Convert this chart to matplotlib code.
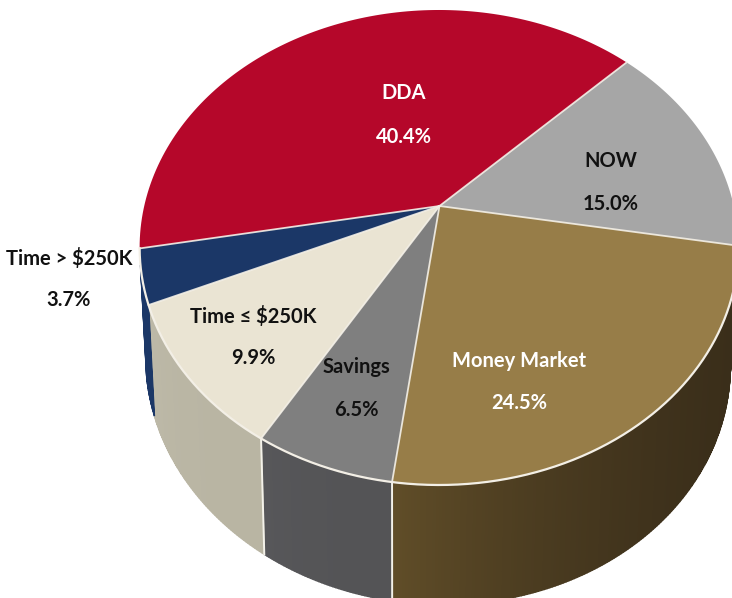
import numpy as np
import matplotlib
matplotlib.use("Agg")
import matplotlib.pyplot as plt
import matplotlib.colors as mc

# listed clockwise, starting at the NOW / DDA boundary
categories = ["NOW", "Money Market", "Savings", "Time \u2264 $250K", "Time > $250K", "DDA"]
shares = [15.0, 24.5, 6.5, 9.9, 3.7, 40.4]
top_colors = ["#A6A6A6", "#977D48", "#7F7F7F", "#EAE4D3", "#1B3767", "#B5072A"]
side_start = ["#3A2E1A", "#3A2E1A", "#545456", "#B9B5A3", "#1B3767", "#B5072A"]
side_end = ["#3A2E1A", "#604D28", "#57575A", "#BDB9A8", "#1B3767", "#B5072A"]
label_colors = ["#111111", "white", "#111111", "#111111", "#111111", "white"]
label_xy = [(611, 161), (519, 361), (356, 367), (253, 316), (69, 258), (404, 93)]
line_gap = [43, 42, 43, 42, 42, 44]

START = 44.6
K = 0.1705
FONT = ["Lato", "Open Sans", "DejaVu Sans"]


def project(theta, cx, cy, ax_x, ax_y):
    t = np.radians(theta)
    X, Y = np.cos(t), np.sin(t)
    w = 1 + K * Y
    return cx + ax_x * X / w, cy - ax_y * Y / w


def top(theta):
    return project(theta, 439, 207, 295, 230.6)


def bottom(theta):
    x, y = project(theta, 438, 320, 288, 236)
    return x, y + 0.015 * (x - 438)


fig = plt.figure(figsize=(7.32, 5.98), dpi=100)
ax = fig.add_axes([0, 0, 1, 1])
ax.set_xlim(0, 732)
ax.set_ylim(598, 0)
ax.axis("off")

edges = START - np.cumsum([0] + shares) * 3.6

# side walls
for i in range(len(shares)):
    a0, a1 = edges[i], edges[i + 1]
    s0 = min(a0, 0)
    s1 = max(a1, -166)
    if s0 <= s1:
        continue
    n = max(int((s0 - s1) / 0.5), 1)
    grid = np.linspace(s0, s1, n + 1)
    c0, c1 = np.array(mc.to_rgb(side_start[i])), np.array(mc.to_rgb(side_end[i]))
    for j in range(n):
        f = (j / max(n - 1, 1)) ** 2.5
        col = c0 + (c1 - c0) * f
        tx0, ty0 = top(grid[j]); tx1, ty1 = top(grid[j + 1])
        bx0, by0 = bottom(grid[j]); bx1, by1 = bottom(grid[j + 1])
        ax.fill([tx0, tx1, bx1, bx0], [ty0, ty1, by1, by0], facecolor=col,
                edgecolor=col, lw=1.0, zorder=1)
for i in range(len(shares)):
    a1 = edges[i + 1]
    if -150 < a1 < -20:
        tx, ty = top(a1); bx, by = bottom(a1)
        ax.plot([tx, bx], [ty, by], color="#F4F2EA", lw=1.4, zorder=2)

# top faces
for i in range(len(shares)):
    grid = np.linspace(edges[i], edges[i + 1], 120)
    x, y = top(grid)
    ax.fill(np.r_[439.5, x], np.r_[206, y], facecolor=top_colors[i], edgecolor="none", zorder=3)
for i in range(len(shares)):
    x, y = top(edges[i])
    ax.plot([439.5, x], [206, y], color="#F3EFE6", lw=1.3, alpha=0.9, zorder=4)

# bright rim between the top face and the side walls
grid = np.linspace(-8, -170, 200)
x, y = top(grid)
ax.plot(x, y, color="#F3EFE6", lw=1.6, zorder=4)

for name, share, col, (lx, ly), gap in zip(categories, shares, label_colors, label_xy, line_gap):
    ax.text(lx, ly, name, color=col, ha="center", va="center", fontsize=14.5,
            family=FONT, fontweight="bold", zorder=5)
    ax.text(lx, ly + gap, f"{share:.1f}%", color=col, ha="center", va="center", fontsize=14.5,
            family=FONT, fontweight="bold", zorder=5)

fig.savefig("out.png", dpi=100, facecolor="white")
